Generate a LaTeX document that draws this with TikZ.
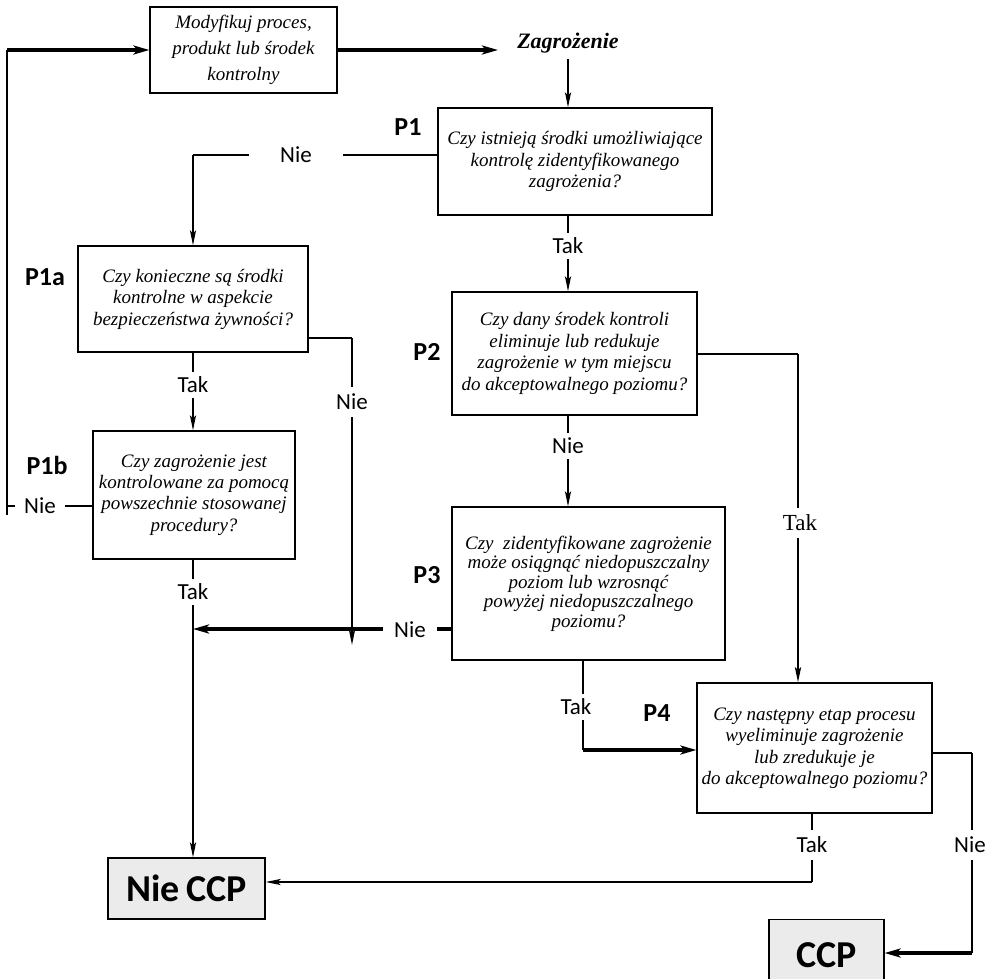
\documentclass[tikz,border=0pt]{standalone}
\usepackage{fontspec}
\setmainfont{Liberation Serif}
\newfontfamily\calfont{Carlito}
\usetikzlibrary{arrows.meta}
\definecolor{ccpgray}{RGB}{235,235,235}
\begin{document}
\begin{tikzpicture}[x=1pt,y=-1pt,
  box/.style={draw, line width=1.2pt, align=center, inner sep=2pt,
    font=\fontsize{19}{21.5}\selectfont\itshape},
  yn/.style={font=\calfont\fontsize{23}{26}\selectfont, fill=white, inner xsep=2pt, inner ysep=1pt},
  qlabel/.style={font=\calfont\bfseries\fontsize{26}{30}\selectfont, inner sep=0pt},
  endbox/.style={draw, line width=1.2pt, fill=ccpgray, inner sep=0pt,
    font=\calfont\bfseries\fontsize{38}{44}\selectfont},
  lnA/.style={line width=1.2pt},
  lnB/.style={line width=2pt},
  lnC/.style={line width=3.5pt},
  arr/.style={-{Stealth[length=15pt,width=6pt,inset=3pt]}},
  arrT/.style={-{Stealth[length=16pt,width=9pt,inset=4pt]}}
]
\clip (0,0) rectangle (988,978);
\fill[white] (0,0) rectangle (988,978);

% boxes
\node[box, minimum width=187pt, minimum height=86pt, font=\fontsize{19}{26}\selectfont\itshape] (mod) at (243.5,50)
  {Modyfikuj proces,\\ produkt lub środek\\ kontrolny};
\node[font=\bfseries\itshape\fontsize{22}{26}\selectfont, inner sep=2pt] (zag) at (568,43) {Zagrożenie};
\node[box, minimum width=274pt, minimum height=107pt] (p1) at (575,161.5)
  {Czy istnieją środki umożliwiające\\ kontrolę zidentyfikowanego\\ zagrożenia?};
\node[box, minimum width=230pt, minimum height=106pt] (p1a) at (193,299)
  {Czy konieczne są środki\\ kontrolne w aspekcie\\ bezpieczeństwa żywności?};
\node[box, minimum width=202pt, minimum height=128pt] (p1b) at (194,495)
  {Czy zagrożenie jest\\ kontrolowane za pomocą\\ powszechnie stosowanej\\ procedury?};
\node[box, minimum width=245pt, minimum height=123pt] (p2) at (574.5,353.5)
  {Czy dany środek kontroli\\ eliminuje lub redukuje\\ zagrożenie w tym miejscu\\ do akceptowalnego poziomu?};
\node[box, minimum width=273pt, minimum height=153pt, font=\fontsize{19}{19.5}\selectfont\itshape] (p3) at (588.5,583.5)
  {Czy\ \ zidentyfikowane zagrożenie\\ może osiągnąć niedopuszczalny\\ poziom lub wzrosnąć\\ powyżej niedopuszczalnego\\ poziomu?};
\node[box, minimum width=235pt, minimum height=130pt] (p4) at (814.5,748)
  {Czy następny etap procesu\\ wyeliminuje zagrożenie\\ lub zredukuje je\\ do akceptowalnego poziomu?};
\node[endbox, minimum width=157pt, minimum height=61pt] (nieccp) at (186.5,888.5) {Nie\,CCP};
\node[endbox, minimum width=115pt, minimum height=72pt, anchor=north] (ccp) at (826.5,919) {\raisebox{-2pt}{CCP}};

% question labels
\node[qlabel] (lp1) at (408,127) {P1};
\node[qlabel] (lp1a) at (45,277) {P1a};
\node[qlabel] (lp1b) at (47,465) {P1b};
\node[qlabel] (lp2) at (427,352) {P2};
\node[qlabel] (lp3) at (427,575) {P3};
\node[qlabel] (lp4) at (657,713) {P4};

% coordinates
\coordinate (L1) at (7,506);
\coordinate (Lbot) at (7,515);
\coordinate (Ltop) at (7,50);
\coordinate (zin) at (498,50);
\coordinate (c568) at (568,0);
\coordinate (c193) at (193,0);
\coordinate (n1) at (193,155);
\coordinate (a1) at (352,338);
\coordinate (a1end) at (352,645);
\coordinate (m1) at (193,629);
\coordinate (t2) at (798,354);
\coordinate (t3) at (583,750);
\coordinate (c583) at (583,0);
\coordinate (t4) at (812,882);
\coordinate (c812) at (812,0);
\coordinate (n4) at (972,753);
\coordinate (n4b) at (972,953);

% left loop from P1b "Nie"
\draw[lnA] (p1b.west |- L1) -- (L1);
\draw[lnB] (Lbot) -- (Ltop);
\draw[lnC, arrT] (Ltop) -- (mod.west);
\draw[lnC, arrT] (mod.east) -- (zin);
\draw[lnA, arr, shorten <=4pt] (zag.south -| c568) -- (p1.north -| c568);

% P1
\draw[lnA] (p1.west |- n1) -- (n1);
\draw[lnB, arr] (n1) -- (p1a.north -| n1);
\draw[lnB, arr] (p1.south -| c568) -- (p2.north -| c568);

% P1a
\draw[lnB, arr] (p1a.south -| c193) -- (p1b.north -| c193);
\draw[lnA] (p1a.east |- a1) -- (a1);
\draw[lnB, arr] (a1) -- (a1end);

% P1b
\draw[lnB, arr] (p1b.south -| c193) -- (nieccp.north -| c193);

% P2
\draw[lnB, arr] (p2.south -| c568) -- (p3.north -| c568);
\draw[lnA] (p2.east |- t2) -- (t2);
\draw[lnB, line width=2.6pt, arr] (t2) -- (p4.north -| t2);

% P3
\draw[lnC, arrT] (p3.west |- m1) -- (m1);
\draw[lnA] (p3.south -| c583) -- (t3);
\draw[lnC, arrT] (t3) -- (p4.west |- t3);

% P4
\draw[lnA] (p4.south -| c812) -- (t4);
\draw[lnB, arr] (t4) -- (nieccp.east |- t4);
\draw[lnA] (p4.east |- n4) -- (n4);
\draw[lnA] (n4) -- (n4b);
\draw[lnC, arrT] (n4b) -- (ccp.east |- n4b);

% yes / no labels
\node[yn, inner xsep=9pt] (nie1b) at (40,506) {Nie};
\node[yn, inner xsep=31pt] (nie1) at (296,155) {Nie};
\node[yn, inner ysep=5pt] (tak1) at (568,246) {Tak};
\node[yn, inner ysep=5pt] (tak1a) at (193,385) {Tak};
\node[yn, inner ysep=7pt] (nie1a) at (352,402) {Nie};
\node[yn, inner ysep=5pt] (tak1b) at (193,592) {Tak};
\node[yn, inner ysep=5pt] (nie2) at (568,446) {Nie};
\node[yn, inner ysep=7pt, font=\fontsize{23}{26}\selectfont] (tak2) at (800,523) {Tak};
\node[yn, inner xsep=11pt] (nie3) at (410,630) {Nie};
\node[yn, inner ysep=5pt] (tak3) at (576,707) {Tak};
\node[yn, inner ysep=7pt] (tak4) at (812,845) {Tak};
\node[yn, inner ysep=7pt] (nie4) at (970,845) {Nie};
\end{tikzpicture}
\end{document}
